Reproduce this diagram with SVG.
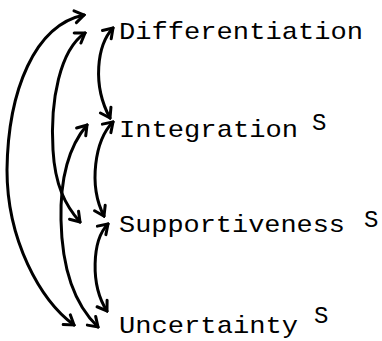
<svg xmlns="http://www.w3.org/2000/svg" width="382" height="341" viewBox="0 0 382 341">
<style>
.t{font-family:"Liberation Mono","Courier New",monospace;font-size:24px;fill:#000}
.c{fill:none;stroke:#000;stroke-width:3;stroke-linecap:round;marker-start:url(#ah);marker-end:url(#ah)}
</style>
<defs>
<marker id="ah" viewBox="-12 -8 14 16" refX="0" refY="0" markerWidth="14" markerHeight="16" markerUnits="userSpaceOnUse" orient="auto-start-reverse">
<path d="M-9,-6 L0,0 L-9,6" fill="none" stroke="#000" stroke-width="3" stroke-linejoin="miter" stroke-linecap="round"/>
</marker>
</defs>
<rect width="382" height="341" fill="#fff"/>
<g id="connectors">
<path class="c" d="M84,15 C35,25 8,90 7,170 C7,240 40,300 74,325"/>
<path class="c" d="M85,33 C60,50 50,100 53,150 C55,185 65,205 80,222"/>
<path class="c" d="M87,125 C70,145 60,175 61,220 C62,270 75,305 98,327"/>
<path class="c" d="M113,28 C97,45 92,85 110,118"/>
<path class="c" d="M113,122 C95,140 88,185 104,216"/>
<path class="c" d="M108,224 C92,240 90,285 107,311"/>
</g>
<g id="differentiation"><text class="t" x="119" y="39" textLength="244" lengthAdjust="spacingAndGlyphs">Differentiation</text></g>
<g id="integration"><text class="t" x="119" y="137" textLength="179" lengthAdjust="spacingAndGlyphs">Integration</text><text class="t" x="312" y="130">S</text></g>
<g id="supportiveness"><text class="t" x="119" y="232" textLength="226" lengthAdjust="spacingAndGlyphs">Supportiveness</text><text class="t" x="364" y="227">S</text></g>
<g id="uncertainty"><text class="t" x="119" y="333" textLength="179" lengthAdjust="spacingAndGlyphs">Uncertainty</text><text class="t" x="314" y="323">S</text></g>
</svg>
